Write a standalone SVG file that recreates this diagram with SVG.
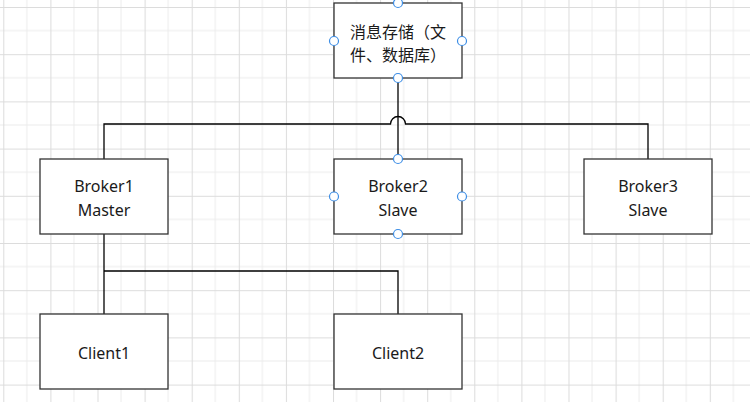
<svg xmlns="http://www.w3.org/2000/svg" width="750" height="402" viewBox="0 0 750 402">
  <defs>
    <pattern id="grid" patternUnits="userSpaceOnUse" x="3.3" y="7" width="47.1" height="47.2">
      <rect width="47.1" height="47.2" fill="#ffffff"/>
      <path d="M23.55,0 V47.2 M0,23.6 H47.1" stroke="#ececec" stroke-width="1" fill="none"/>
      <path d="M0.5,0 V47.2 M0,0.5 H47.1" stroke="#dcdcdc" stroke-width="1" fill="none"/>
    </pattern>
    <style>
      .box { fill: #ffffff; stroke: #333333; stroke-width: 1.3; }
      .lbl { font-family: "Noto Sans", "Liberation Sans", sans-serif; font-size: 16px; fill: #1a1a1a; text-anchor: middle; }
      .cjk { font-family: "Noto Sans CJK SC", "Noto Sans", sans-serif; font-size: 16px; fill: #1a1a1a; text-anchor: middle; }
      .conn { fill: none; stroke: #000000; stroke-width: 1.3; }
      .handle { fill: #ffffff; stroke: #3d8ee6; stroke-width: 1.2; }
    </style>
  </defs>
  <rect x="0" y="0" width="750" height="402" fill="url(#grid)"/>

  <g id="connectors">
    <path class="conn" d="M398,78 V159"/>
    <path class="conn" d="M104,159 V124 H390.5 A7.5,7.5 0 0 1 405.5,124 H648 V159"/>
    <path class="conn" d="M104,234 V314"/>
    <path class="conn" d="M104,271 H398 V314"/>
  </g>

  <g id="storage">
    <rect class="box" x="334" y="3" width="128" height="75"/>
    <text class="cjk" x="398" y="38">消息存储（文</text>
    <text class="cjk" x="398" y="61">件、数据库）</text>
    <circle class="handle" cx="398" cy="3" r="4.5"/>
    <circle class="handle" cx="334" cy="41" r="4.5"/>
    <circle class="handle" cx="462" cy="41" r="4.5"/>
    <circle class="handle" cx="398" cy="78" r="4.5"/>
  </g>

  <g id="broker1">
    <rect class="box" x="40" y="159" width="128" height="75"/>
    <text class="lbl" x="104" y="191.5">Broker1</text>
    <text class="lbl" x="104" y="216">Master</text>
  </g>

  <g id="broker2">
    <rect class="box" x="334" y="159" width="128" height="75"/>
    <text class="lbl" x="398" y="191.5">Broker2</text>
    <text class="lbl" x="398" y="216">Slave</text>
    <circle class="handle" cx="398" cy="159" r="4.5"/>
    <circle class="handle" cx="334" cy="196.5" r="4.5"/>
    <circle class="handle" cx="462" cy="196.5" r="4.5"/>
    <circle class="handle" cx="398" cy="234" r="4.5"/>
  </g>

  <g id="broker3">
    <rect class="box" x="584" y="159" width="128" height="75"/>
    <text class="lbl" x="648" y="191.5">Broker3</text>
    <text class="lbl" x="648" y="216">Slave</text>
  </g>

  <g id="client1">
    <rect class="box" x="40" y="314" width="128" height="75"/>
    <text class="lbl" x="104" y="358.5">Client1</text>
  </g>

  <g id="client2">
    <rect class="box" x="334" y="314" width="128" height="75"/>
    <text class="lbl" x="398" y="358.5">Client2</text>
  </g>
</svg>
